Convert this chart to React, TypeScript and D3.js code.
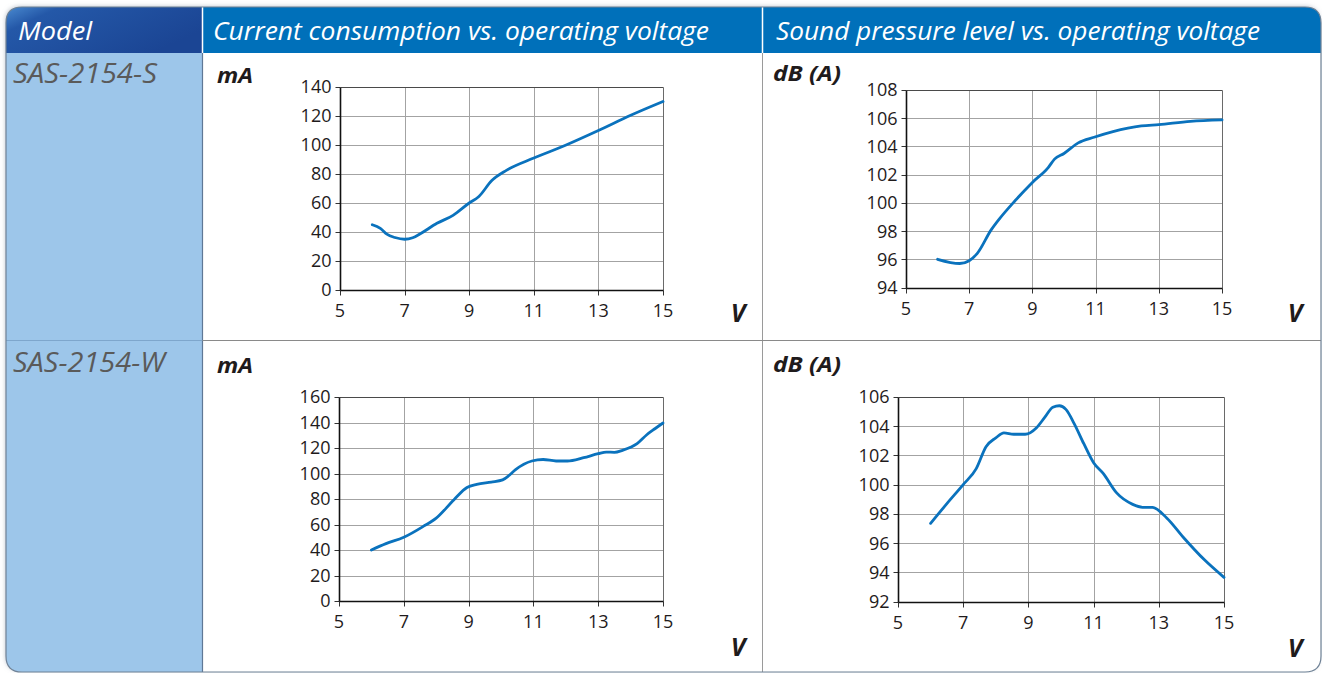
import React from 'react';
import * as d3 from 'd3';

// ---------- data ----------
const voltageTicks = [5, 7, 9, 11, 13, 15];
const currentTicksS = [0, 20, 40, 60, 80, 100, 120, 140];
const soundTicksS = [94, 96, 98, 100, 102, 104, 106, 108];
const currentTicksW = [0, 20, 40, 60, 80, 100, 120, 140, 160];
const soundTicksW = [92, 94, 96, 98, 100, 102, 104, 106];

const headerLabels = ['Model', 'Current consumption vs. operating voltage', 'Sound pressure level vs. operating voltage'];
const models = ['SAS-2154-S', 'SAS-2154-W'];

const sCurrentV = [6, 6.25, 6.45, 6.7, 7, 7.25, 7.5, 8, 8.5, 9, 9.3, 9.7, 10.15, 11, 12, 13, 14, 15];
const sCurrentMA = [45, 42.5, 38.5, 36.2, 35, 36, 39, 46, 51.5, 60, 64.5, 75.5, 82.5, 91, 100, 110, 120.5, 130];

const sSoundV = [6, 6.7, 7, 7.25, 7.7, 7.95, 8.45, 9, 9.5, 9.7, 10, 10.45, 10.95, 11.55, 12.45, 13, 14, 15];
const sSoundDB = [96.0, 95.7, 95.9, 96.4, 98.1, 98.85, 100.15, 101.45, 102.5, 103.1, 103.5, 104.25, 104.65, 105.05, 105.45, 105.55, 105.78, 105.88];

const wCurrentV = [6, 6.45, 7, 7.6, 8, 8.55, 8.95, 9.25, 9.7, 10.05, 10.25, 10.45, 10.95, 11.3, 11.7, 12.05, 12.55, 13, 13.25, 13.5, 13.75, 14.2, 14.5, 14.75, 15];
const wCurrentMA = [40, 45, 50, 58.5, 65, 79.5, 89, 91.5, 93.3, 95, 98.5, 103, 109.8, 111, 109.8, 109.8, 112.4, 115.5, 116.8, 116.6, 118.2, 123.4, 130.4, 135.1, 139.6];

const wSoundV = [6, 6.5, 7, 7.4, 7.7, 8, 8.25, 8.55, 8.9, 9.25, 9.5, 9.75, 9.95, 10.15, 10.4, 10.7, 11, 11.3, 11.7, 12.2, 12.5, 12.8, 13.25, 13.75, 14.4, 15];
const wSoundDB = [97.35, 98.7, 100, 101.1, 102.6, 103.2, 103.55, 103.45, 103.45, 103.9, 104.6, 105.3, 105.4, 105.15, 104.2, 102.8, 101.5, 100.75, 99.45, 98.65, 98.45, 98.45, 97.7, 96.4, 94.85, 93.65];

// ---------- layout ----------
const W = 1322;
const H = 673;
const FONT = '"Open Sans", "DejaVu Sans", sans-serif';
const LINE_BLUE = '#0a72bd';
const TEXT_DARK = '#1f1b1c';

type ChartCfg = {
  xs: number[]; ys: number[]; domain: [number, number]; yTicks: number[];
  left: number; right: number; top: number; bottom: number;
  unit: string; unitW: number; unitX: number; unitY: number; vX: number; vY: number;
};

const charts: ChartCfg[] = [
  { xs: sCurrentV, ys: sCurrentMA, domain: [0, 140], yTicks: currentTicksS, left: 340, right: 663, top: 87, bottom: 290, unit: 'mA', unitW: 36, unitX: 217, unitY: 83, vX: 738, vY: 322 },
  { xs: sSoundV, ys: sSoundDB, domain: [94, 108], yTicks: soundTicksS, left: 906, right: 1222, top: 90, bottom: 287.5, unit: 'dB (A)', unitW: 68, unitX: 773, unitY: 81, vX: 1295, vY: 322 },
  { xs: wCurrentV, ys: wCurrentMA, domain: [0, 160], yTicks: currentTicksW, left: 339, right: 663, top: 397, bottom: 601, unit: 'mA', unitW: 36, unitX: 217, unitY: 373, vX: 738, vY: 656 },
  { xs: wSoundV, ys: wSoundDB, domain: [92, 106], yTicks: soundTicksW, left: 898, right: 1224, top: 397, bottom: 601.5, unit: 'dB (A)', unitW: 68, unitX: 773, unitY: 372, vX: 1295, vY: 657 },
];

const px = (v: number) => Math.round(v) + 0.5;

function Chart({ cfg }: { cfg: ChartCfg }) {
  const x = d3.scaleLinear().domain([5, 15]).range([cfg.left, cfg.right]);
  const y = d3.scaleLinear().domain(cfg.domain).range([cfg.bottom, cfg.top]);
  const pts: [number, number][] = cfg.xs.map((v, i) => [v, cfg.ys[i]]);
  const line = d3.line<[number, number]>().x(d => x(d[0])).y(d => y(d[1])).curve(d3.curveMonotoneX);
  const L = px(x(5)), R = px(x(15)), T = px(y(cfg.domain[1])), B = px(y(cfg.domain[0]));
  return (
    <g>
      {cfg.yTicks.slice(1, -1).map(t => (
        <line key={'h' + t} x1={L} x2={R} y1={px(y(t))} y2={px(y(t))} stroke="#a3a3a3" strokeWidth={1} />
      ))}
      {voltageTicks.slice(1, -1).map(t => (
        <line key={'v' + t} x1={px(x(t))} x2={px(x(t))} y1={T} y2={B} stroke="#a3a3a3" strokeWidth={1} />
      ))}
      <line x1={L} x2={R} y1={T} y2={T} stroke="#4a4a4a" strokeWidth={1} />
      <line x1={R} x2={R} y1={T} y2={B} stroke="#6a6a6a" strokeWidth={1} />
      {cfg.yTicks.map(t => (
        <line key={'yt' + t} x1={L - 5} x2={L} y1={px(y(t))} y2={px(y(t))} stroke="#333" strokeWidth={1} />
      ))}
      {voltageTicks.map(t => (
        <line key={'xt' + t} x1={px(x(t))} x2={px(x(t))} y1={B} y2={B + 5} stroke="#333" strokeWidth={1} />
      ))}
      <line x1={L} x2={L} y1={T} y2={B} stroke="#111" strokeWidth={1.6} />
      <line x1={L} x2={R} y1={B} y2={B} stroke="#111" strokeWidth={1.6} />
      {cfg.yTicks.map(t => (
        <text key={'yl' + t} x={L - 9} y={y(t)} dy="0.36em" textAnchor="end" fontSize={18} fill={TEXT_DARK} fontFamily={FONT}>{t}</text>
      ))}
      {voltageTicks.map(t => (
        <text key={'xl' + t} x={x(t)} y={B + 26.5} textAnchor="middle" fontSize={18} fill={TEXT_DARK} fontFamily={FONT}>{t}</text>
      ))}
      <path d={line(pts) || ''} fill="none" stroke={LINE_BLUE} strokeWidth={2.8} strokeLinejoin="round" strokeLinecap="round" />
      <text x={cfg.unitX} y={cfg.unitY} fontSize={22} fontWeight="bold" fontStyle="italic" fill={TEXT_DARK} fontFamily={FONT} textLength={cfg.unitW} lengthAdjust="spacingAndGlyphs">{cfg.unit}</text>
      <text x={cfg.vX} y={cfg.vY} textAnchor="middle" fontSize={25} fontWeight="bold" fontStyle="italic" fill={TEXT_DARK} fontFamily={FONT}>V</text>
    </g>
  );
}

export default function App() {
  const x0 = 6, y0 = 7, x1 = 1321, y1 = 672, r = 16;
  const headerBottom = 53;
  const col1 = 202.5, col2 = 762.5, rowSep = 340.5;
  const outline = `M${x0},${y0 + r} Q${x0},${y0} ${x0 + r},${y0} L${x1 - r},${y0} Q${x1},${y0} ${x1},${y0 + r} L${x1},${y1 - r} Q${x1},${y1} ${x1 - r},${y1} L${x0 + r},${y1} Q${x0},${y1} ${x0},${y1 - r} Z`;
  return (
    <svg width={W} height={H} style={{ position: 'absolute', left: 0, top: 0, background: '#fff' }}>
      <defs>
        <clipPath id="frameClip"><path d={outline} /></clipPath>
        <linearGradient id="modelGrad" x1="0" y1="0" x2="1" y2="0.5">
          <stop offset="0" stopColor="#4a8ad0" />
          <stop offset="0.22" stopColor="#2458a8" />
          <stop offset="1" stopColor="#1b4594" />
        </linearGradient>
        <filter id="shadow" x="-5%" y="-5%" width="110%" height="110%">
          <feDropShadow dx="-1" dy="-1" stdDeviation="2" floodColor="#8a96a8" floodOpacity="0.5" />
        </filter>
      </defs>
      <path d={outline} fill="#fff" filter="url(#shadow)" />
      <g clipPath="url(#frameClip)">
        <rect x={x0} y={y0} width={x1 - x0} height={headerBottom - y0} fill="#0070ba" />
        <rect x={x0} y={y0} width={col1 - x0} height={headerBottom - y0} fill="url(#modelGrad)" />
        <rect x={x0} y={headerBottom} width={col1 - x0} height={y1 - headerBottom} fill="#9dc6ea" />
        <line x1={col1} x2={col1} y1={y0} y2={headerBottom} stroke="#ffffff" strokeWidth={1.5} />
        <line x1={col2} x2={col2} y1={y0} y2={headerBottom} stroke="#ffffff" strokeWidth={1.5} />
        <line x1={col1} x2={col1} y1={headerBottom} y2={y1} stroke="#5f7896" strokeWidth={1.2} />
        <line x1={col2} x2={col2} y1={headerBottom} y2={y1} stroke="#9a9a9a" strokeWidth={1} />
        <line x1={x0} x2={col1} y1={rowSep} y2={rowSep} stroke="#7ea6cc" strokeWidth={1} />
        <line x1={col1} x2={x1} y1={rowSep} y2={rowSep} stroke="#8a8a8a" strokeWidth={1} />
        <text x={18} y={39.5} fontSize={25} fontStyle="italic" fill="#fff" fontFamily={FONT} textLength={74} lengthAdjust="spacingAndGlyphs">{headerLabels[0]}</text>
        <text x={213} y={39.5} fontSize={25} fontStyle="italic" fill="#fff" fontFamily={FONT} textLength={496} lengthAdjust="spacingAndGlyphs">{headerLabels[1]}</text>
        <text x={776} y={39.5} fontSize={25} fontStyle="italic" fill="#fff" fontFamily={FONT} textLength={484} lengthAdjust="spacingAndGlyphs">{headerLabels[2]}</text>
        <text x={13} y={83} fontSize={27} fontStyle="italic" fill="#5a5a5a" fontFamily={FONT} textLength={144} lengthAdjust="spacingAndGlyphs">{models[0]}</text>
        <text x={13} y={372} fontSize={27} fontStyle="italic" fill="#5a5a5a" fontFamily={FONT} textLength={152} lengthAdjust="spacingAndGlyphs">{models[1]}</text>
        {charts.map((c, i) => <Chart key={i} cfg={c} />)}
      </g>
      <path d={outline} fill="none" stroke="#6f8296" strokeWidth={1.2} />
    </svg>
  );
}
